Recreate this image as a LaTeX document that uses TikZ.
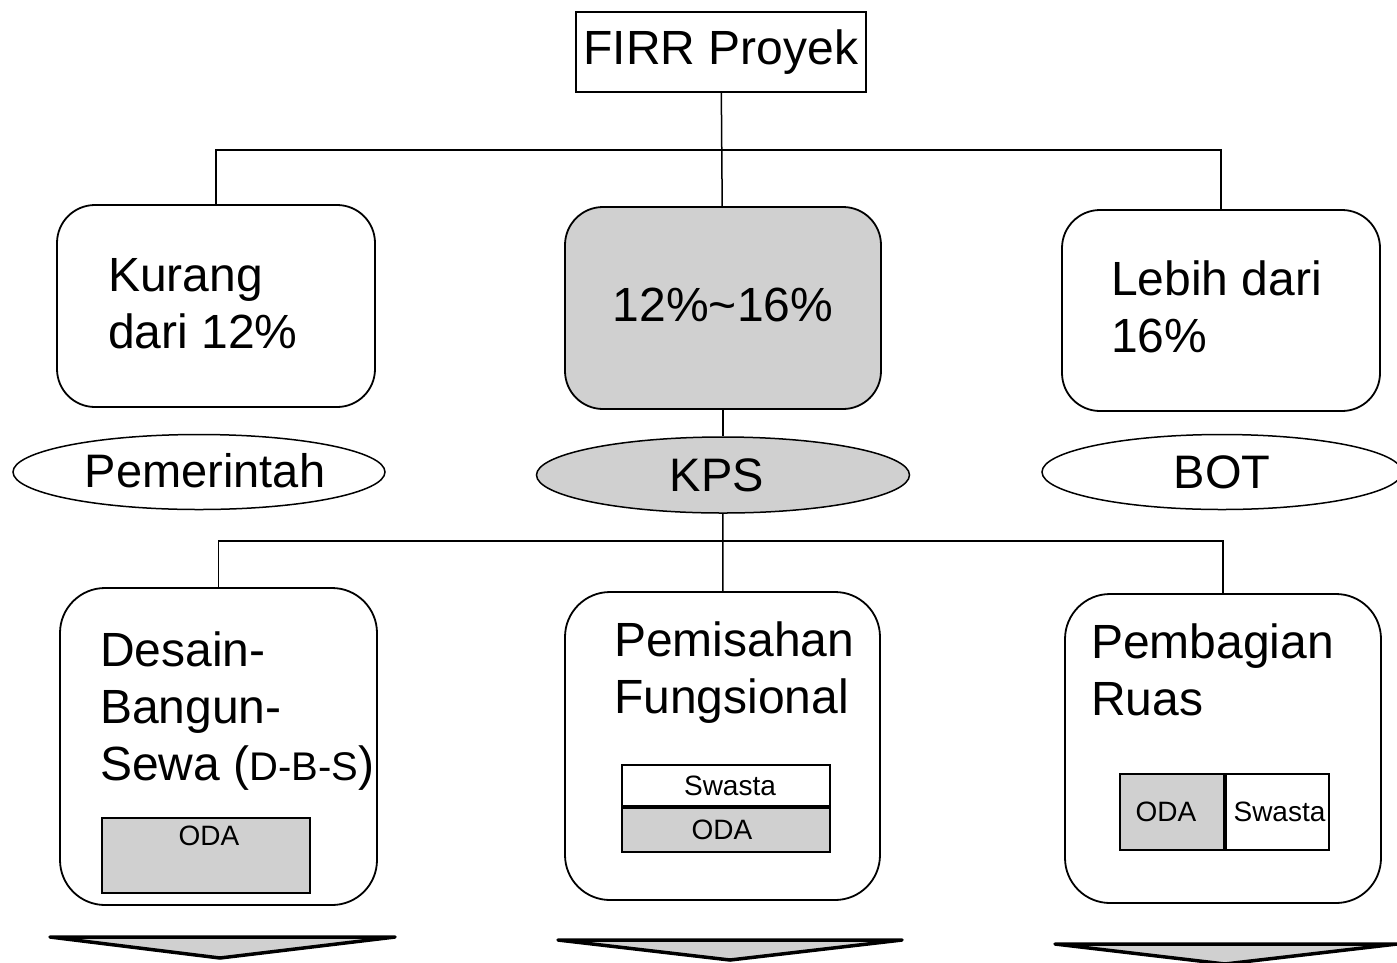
\documentclass[tikz,border=0pt]{standalone}
\usepackage{fontspec}
\setmainfont{Liberation Sans}
\usetikzlibrary{positioning,shapes.geometric}
\definecolor{boxgray}{RGB}{208,208,208}

\begin{document}
\begin{tikzpicture}[
  x=1pt, y=-1pt,
  box/.style={draw, line width=1.8pt, rounded corners=38pt, inner sep=0pt},
  oval/.style={draw, ellipse, line width=1.5pt, inner sep=0pt, font=\fontsize{47}{50}\selectfont},
  small/.style={draw, line width=2pt, inner sep=0pt},
  big/.style={font=\fontsize{48}{57}\selectfont, align=left, inner sep=0pt},
  tiny/.style={font=\fontsize{28}{32}\selectfont, inner sep=0pt},
  tri/.style={draw, line width=3.5pt, fill=boxgray, line join=round},
  line/.style={line width=1.5pt}
]
\useasboundingbox (0,0) rectangle (1397,962);

% Top level
\node[draw, line width=1.5pt, minimum width=290pt, minimum height=80pt, font=\fontsize{48}{50}\selectfont] (firr) at (721,52) {FIRR Proyek};

\node[box, minimum width=318pt, minimum height=202pt] (b1) at (216,306) {};
\node[box, fill=boxgray, minimum width=316pt, minimum height=202pt, font=\fontsize{48}{57}\selectfont, text depth=6pt] (b2) at (723,308) {12\%\char`\~16\%};
\node[box, minimum width=318pt, minimum height=201pt] (b3) at (1221,310.5) {};
\node[big, anchor=north west] (t1) at (108,258) {Kurang\\dari 12\%};
\node[big, anchor=north west] (t3) at (1111,261) {Lebih dari\\16\%};

% Schemes
\node[oval, minimum width=372pt, minimum height=75pt, text depth=3pt] (e1) at (199,472) {\hspace*{12pt}Pemerintah};
\node[oval, fill=boxgray, minimum width=373pt, minimum height=76pt] (e2) at (723,475) {KPS\hspace*{12pt}};
\node[oval, minimum width=360pt, minimum height=75pt] (e3) at (1222,472) {BOT};

% Lower level
\node[box, rounded corners=45pt, minimum width=317pt, minimum height=317pt] (b4) at (218.5,746.5) {};
\node[box, rounded corners=45pt, minimum width=315pt, minimum height=308pt] (b5) at (722.5,746) {};
\node[box, rounded corners=45pt, minimum width=316pt, minimum height=309pt] (b6) at (1223,748.5) {};
\node[big, anchor=north west] (t4) at (100,632) {Desain-\\Bangun-\\Sewa ({\fontsize{40}{57}\selectfont D-B-S})};
\node[big, anchor=north west] (t5) at (614,622) {Pemisahan\\Fungsional};
\node[big, anchor=north west] (t6) at (1091,624) {Pembagian\\Ruas};

% Shares
\node[small, fill=boxgray, minimum width=208pt, minimum height=75pt] (o4) at (206,855.5) {};
\node[tiny] (o4t) at (209,836) {ODA};
\node[small, fill=white, minimum width=208pt, minimum height=41pt, tiny] (s5) at (726,785.5) {\hspace*{8pt}Swasta};
\node[small, fill=boxgray, minimum width=208pt, minimum height=44pt, tiny, below=0pt of s5] (o5) {ODA\hspace*{8pt}};
\node[small, fill=boxgray, minimum width=104pt, minimum height=76pt, tiny] (o6) at (1172,812) {ODA\hspace*{12pt}};
\node[small, fill=white, minimum width=103pt, minimum height=76pt, tiny, right=0pt of o6] (s6) {\hspace*{4pt}Swasta};

% Connectors
\coordinate (j1) at (722,150);
\coordinate (j2) at (722,541);
\draw[line] (firr) -- (b2);
\draw[line] (b1.north) |- (j1) -| (b3.north);
\draw[line] (b2) -- (e2);
\draw[line] (e2) -- (b5);
\draw[line] (b4.north) |- (j2) -| (b6.north);

% Arrows
\draw[tri] (50,937) -- (395,937) -- (220,958) -- cycle;
\draw[tri] (558,940) -- (902,940) -- (730,960) -- cycle;
\draw[tri] (1055,944) -- (1397,944) -- (1225,964) -- cycle;
\end{tikzpicture}
\end{document}
